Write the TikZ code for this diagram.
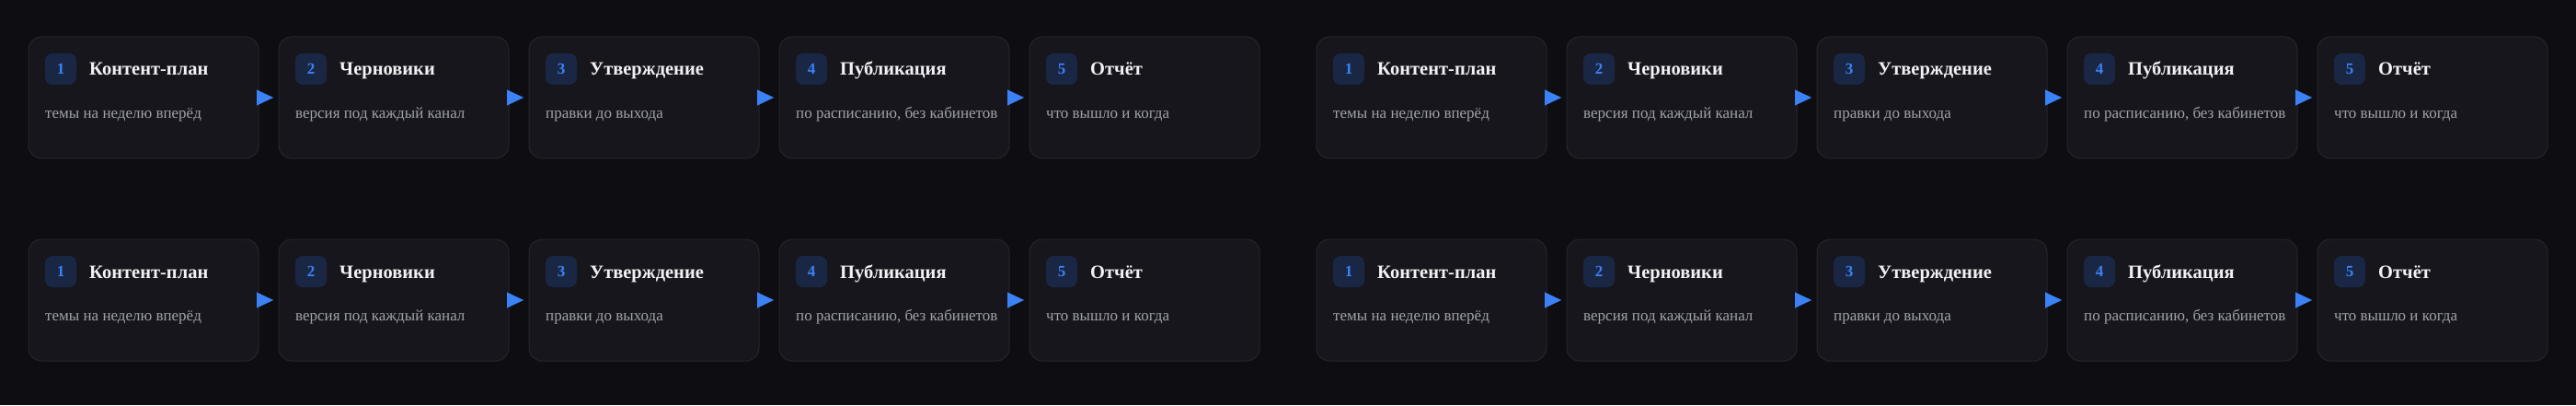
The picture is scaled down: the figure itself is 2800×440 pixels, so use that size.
\documentclass[tikz,border=0pt]{standalone}
\usepackage{fontspec}
\setmainfont{Liberation Serif}
\usetikzlibrary{arrows.meta, calc, positioning}
\definecolor{pagebg}{HTML}{0D0D12}
\definecolor{cardfill}{HTML}{16161C}
\definecolor{cardline}{HTML}{25252D}
\definecolor{badgefill}{HTML}{1A2744}
\definecolor{accent}{HTML}{3B82F6}
\definecolor{headtext}{HTML}{F2F2F4}
\definecolor{notetext}{HTML}{A2A2AC}

\begin{document}
\begin{tikzpicture}[
        x=1pt, y=1pt,
        node distance = 22pt,
        card/.style = {draw=cardline, fill=cardfill, line width=1pt,
                       rounded corners=14pt, inner sep=0pt, outer sep=0pt,
                       minimum width=250pt, minimum height=132pt},
        badge/.style = {fill=badgefill, rounded corners=8pt, inner sep=0pt,
                        outer sep=0pt, minimum size=34pt, text=accent,
                        font=\bfseries\fontsize{17}{17}\selectfont},
        head/.style = {inner sep=0pt, text=headtext, text height=14pt,
                       text depth=0pt, font=\bfseries\fontsize{20.5}{20.5}\selectfont},
        note/.style = {inner sep=0pt, text=notetext,
                       font=\fontsize{17}{17}\selectfont},
        flow/.style = {draw=accent, line width=0.1pt,
                       -{Triangle[length=18pt, width=17pt]},
                       shorten <=-2pt, shorten >=6pt},
        ]
        \fill [pagebg] (0,0) rectangle (2800,440);
        % two rows, two flows per row
        \foreach \r/\y in {a/334, b/114} {
            \foreach \g/\x in {1/9, 2/1409} {
                \coordinate (\r\g-0) at (\x,\y);
                \foreach \i/\title/\text in {1/Контент-план/темы на неделю вперёд,
                        2/Черновики/версия под каждый канал,
                        3/Утверждение/правки до выхода,
                        4/Публикация/{по расписанию, без кабинетов},
                        5/Отчёт/что вышло и когда} {
                    \pgfmathtruncatemacro\prev{\i-1}
                    \node [card, right=of \r\g-\prev] (\r\g-\i) {};
                    \node [badge, below right=18pt and 18pt of \r\g-\i.north west]
                        (\r\g-\i-num) {\i};
                    \node [head, right=14pt of \r\g-\i-num] (\r\g-\i-head) {\title};
                    \node [note, below=36pt of \r\g-\i-num.south west, anchor=base west]
                        (\r\g-\i-note) {\text};
                }
                \foreach \i in {1,...,4} {
                    \pgfmathtruncatemacro\next{\i+1}
                    \draw [flow] (\r\g-\i) -- (\r\g-\next);
                }
            }
        }
    \end{tikzpicture}
\end{document}
